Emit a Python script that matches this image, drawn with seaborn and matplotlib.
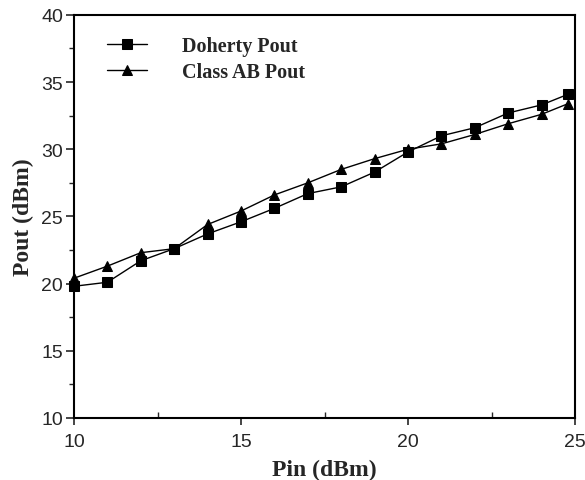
import matplotlib
matplotlib.use("Agg")
import matplotlib.pyplot as plt
import seaborn as sns
import pandas as pd
from matplotlib.ticker import MultipleLocator

sns.set_style("ticks")
plt.rcParams["font.family"] = ["Liberation Sans", "DejaVu Sans"]

pin = [10, 11, 12, 13, 14, 15, 16, 17, 18, 19, 20, 21, 22, 23, 24, 24.8]
doherty = [19.8, 20.1, 21.7, 22.6, 23.7, 24.6, 25.6, 26.7, 27.2, 28.3, 29.8, 31.0, 31.6, 32.7, 33.3, 34.1]
class_ab = [20.4, 21.3, 22.3, 22.6, 24.4, 25.4, 26.6, 27.5, 28.5, 29.3, 30.0, 30.4, 31.1, 31.9, 32.6, 33.4]
series_names = ["Doherty Pout", "Class AB Pout"]
x_ticks = [10, 15, 20, 25]
y_ticks = [10, 15, 20, 25, 30, 35, 40]

df = pd.DataFrame({
    "Pin": pin * 2,
    "Pout": doherty + class_ab,
    "Series": [series_names[0]] * len(pin) + [series_names[1]] * len(pin),
})

fig = plt.figure(figsize=(5.85, 4.81), dpi=100)
ax = fig.add_axes([0.1265, 0.129, 0.8565, 0.838])

sns.lineplot(data=df, x="Pin", y="Pout", hue="Series", style="Series",
             palette=["black", "black"], markers=["s", "^"], dashes=False,
             markersize=7.5, linewidth=1.0, markeredgecolor="black",
             ax=ax, legend=True, clip_on=False)

ax.set_xlim(10, 25)
ax.set_ylim(10, 40)
ax.set_xticks(x_ticks)
ax.set_yticks(y_ticks)
ax.xaxis.set_minor_locator(MultipleLocator(2.5))
ax.yaxis.set_minor_locator(MultipleLocator(2.5))
ax.tick_params(axis="x", which="major", direction="out", length=5, width=1.2, labelsize=14, pad=6)
ax.tick_params(axis="x", which="minor", direction="in", length=4, width=1.0)
ax.tick_params(axis="y", which="major", direction="out", length=6, width=1.2, labelsize=14, pad=2)
ax.tick_params(axis="y", which="minor", direction="out", length=3.5, width=1.0)
for s in ax.spines.values():
    s.set_visible(True)
    s.set_linewidth(1.5)
    s.set_color("black")

ax.set_xlabel("Pin (dBm)", fontsize=17, fontweight="bold", family="Liberation Serif", labelpad=6)
ax.set_ylabel("Pout (dBm)", fontsize=17, fontweight="bold", family="Liberation Serif", labelpad=5)

leg = ax.legend(loc="upper left", bbox_to_anchor=(0.046, 0.972), frameon=False, borderpad=0,
                prop={"family": "Liberation Serif", "weight": "bold", "size": 14.5},
                handlelength=2.0, handletextpad=1.7, labelspacing=0.3)

fig.savefig("out.png", dpi=100)
